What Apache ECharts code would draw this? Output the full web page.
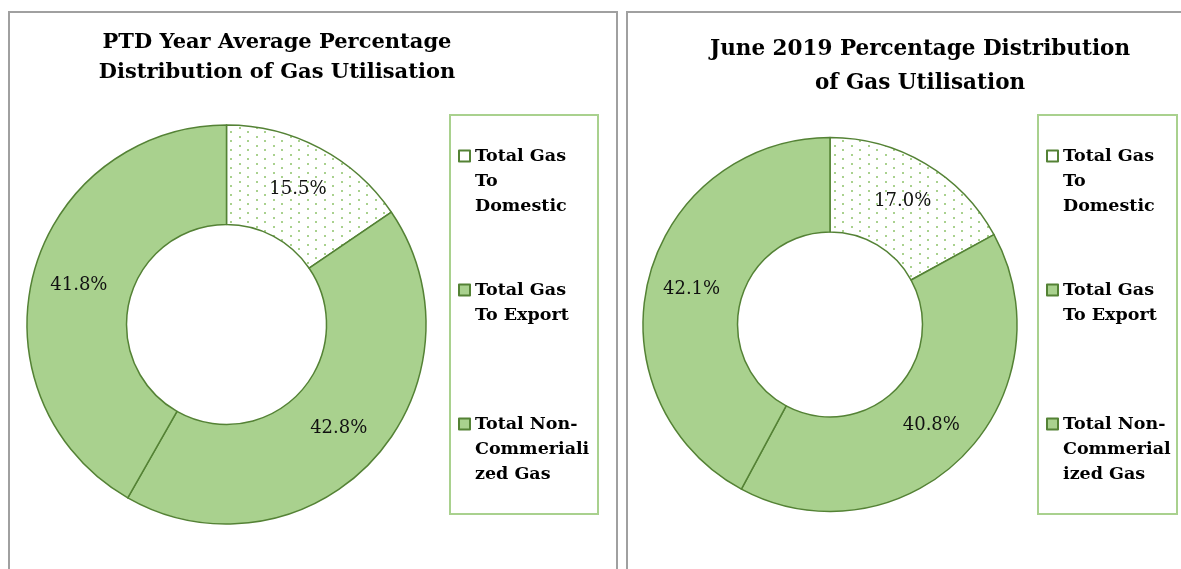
<!DOCTYPE html>
<html>
<head>
<meta charset="utf-8">
<script src="https://cdn.jsdelivr.net/npm/echarts@6/dist/echarts.min.js"></script>
<style>
    html, body { margin: 0; padding: 0; background: #fff; }
    #chart { width: 1181px; height: 569px; }
</style>
</head>
<body>
<div id="chart"></div>
<script>
// data
const categories = ['Total Gas To Domestic', 'Total Gas To Export', 'Total Non-Commerialized Gas'];
// legend wording wraps differently in the two boxes
const legendTextLeft = ['Total Gas\nTo\nDomestic', 'Total Gas\nTo Export', 'Total Non-\nCommeriali\nzed Gas'];
const legendTextRight = ['Total Gas\nTo\nDomestic', 'Total Gas\nTo Export', 'Total Non-\nCommerial\nized Gas'];
const ptdValues = [15.5, 42.8, 41.8];
const juneValues = [17.0, 40.8, 42.1];
const titles = ['PTD Year Average Percentage\nDistribution of Gas Utilisation', 'June 2019 Percentage Distribution\nof Gas Utilisation'];

const fill = '#a9d18e';
const edge = '#548235';
const serif = '"DejaVu Serif", serif';

// dotted fill for the domestic slice
let dots = document.createElement('canvas');
dots.width = 17;
dots.height = 9;
let dctx = dots.getContext('2d');
dctx.fillStyle = '#fff';
dctx.fillRect(0, 0, 17, 9);
dctx.fillStyle = '#a9d18e';
dctx.fillRect(1, 1, 2, 2);
dctx.fillRect(9, 5, 2, 2);
const dotFill = { image: dots, repeat: 'repeat' };

function makePie(values, center, radius) {
    return {
        type: 'pie',
        center: center,
        radius: radius,
        startAngle: 90,
        clockwise: true,
        emphasis: { disabled: true },
        itemStyle: { color: fill, borderColor: edge, borderWidth: 1.5 },
        label: {
            show: true,
            position: 'inside',
            color: '#111',
            fontFamily: serif,
            fontSize: 18,
            formatter: p => p.value.toFixed(1) + '%'
        },
        labelLine: { show: false },
        data: values.map((v, i) => ({
            name: categories[i],
            value: v,
            itemStyle: i === 0 ? { color: dotFill } : {}
        }))
    };
}

// one legend per entry so each can sit at its own height;
// blank lines above the text keep the icon level with the first line
const lineCenters = [156, 290, 424];
const legends = [];
[[458, legendTextLeft], [1046, legendTextRight]].forEach(([x, texts]) => {
    categories.forEach((name, i) => {
        let n = texts[i].split('\n').length;
        legends.push({
            orient: 'vertical',
            left: x,
            top: lineCenters[i] - (2 * n - 1) * 12.5,
            padding: 0,
            itemWidth: 11,
            itemHeight: 11,
            icon: 'rect',
            selectedMode: false,
            data: [{
                name: name,
                itemStyle: { color: i === 0 ? '#fff' : fill, borderColor: edge, borderWidth: 2 }
            }],
            formatter: () => '\n'.repeat(n - 1) + texts[i],
            textStyle: {
                fontFamily: serif,
                fontWeight: 'bold',
                fontSize: 17.5,
                lineHeight: 25,
                color: '#000'
            }
        });
    });
});

let myChart = echarts.init(document.getElementById('chart'));
let option = {
    animation: false,
    backgroundColor: '#fff',
    title: [
        {
            text: titles[0], left: 272, top: 23, textAlign: 'center',
            textStyle: { fontFamily: serif, fontWeight: 'bold', fontSize: 21, lineHeight: 30, color: '#000' }
        },
        {
            text: titles[1], left: 915, top: 27, textAlign: 'center',
            textStyle: { fontFamily: serif, fontWeight: 'bold', fontSize: 21.5, lineHeight: 34, color: '#000' }
        }
    ],
    legend: legends,
    graphic: [
        { type: 'polyline', shape: { points: [[9, 600], [9, 12], [617, 12], [617, 600]] }, style: { stroke: '#a0a0a0', lineWidth: 2, fill: null }, silent: true },
        { type: 'polyline', shape: { points: [[627, 600], [627, 12], [1200, 12]] }, style: { stroke: '#a0a0a0', lineWidth: 2, fill: null }, silent: true },
        { type: 'rect', shape: { x: 450, y: 115, width: 148, height: 399 }, style: { stroke: fill, lineWidth: 2, fill: null }, silent: true },
        { type: 'rect', shape: { x: 1038, y: 115, width: 139, height: 399 }, style: { stroke: fill, lineWidth: 2, fill: null }, silent: true }
    ],
    series: [
        makePie(ptdValues, [226.5, 324.5], [100, 199.5]),
        makePie(juneValues, [830, 324.5], [92.5, 187])
    ]
};
option && myChart.setOption(option);
</script>
</body>
</html>
